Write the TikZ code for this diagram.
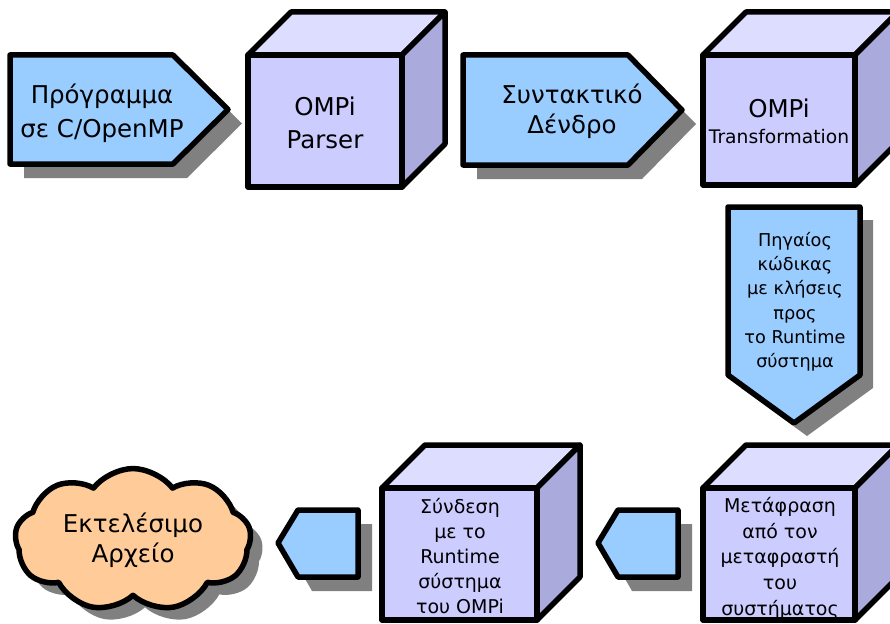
\documentclass[tikz,border=0pt]{standalone}
\usepackage{fontspec}
\setmainfont{DejaVu Sans}
\usetikzlibrary{shapes.symbols,shadows}
\definecolor{arrowblue}{HTML}{99CCFF}
\definecolor{cubefront}{HTML}{CCCCFF}
\definecolor{cubetop}{HTML}{DDDDFF}
\definecolor{cubeside}{HTML}{AAAADD}
\definecolor{shadowgray}{HTML}{808080}
\definecolor{cloudfill}{HTML}{FFCC99}
\newcommand\drawcube[4]{%
  \path[outline,fill=cubetop] (#1,#2) -- ({#1+43},{#2-43}) -- ({#3+43},{#2-43}) -- (#3,#2) -- cycle;
  \path[outline,fill=cubeside] (#3,#2) -- ({#3+43},{#2-43}) -- ({#3+43},{#4-43}) -- (#3,#4) -- cycle;
  \path[outline,fill=cubefront] (#1,#2) rectangle (#3,#4);
}
\begin{document}
\begin{tikzpicture}[x=1pt,y=-1pt,
  outline/.style={draw=black,line width=5.5pt,line join=round},
  shade/.style={fill=shadowgray},
  bigtext/.style={font=\fontsize{24.5}{34}\selectfont,align=center,inner sep=0pt},
  smalltext/.style={font=\fontsize{19}{25.7}\selectfont,align=center,inner sep=0pt}]
\useasboundingbox (0,0) rectangle (890,623);
\clip (0,0) rectangle (890,623);
% arrow 1
\path[shade] (24,69) -- (187,69) -- (242,123.5) -- (187,178) -- (24,178) -- cycle;
\path[outline,fill=arrowblue] (10,55) -- (173,55) -- (228,109.5) -- (173,164) -- (10,164) -- cycle;
\node[bigtext] (prog) at (102,113.5) {Πρόγραμμα\\σε C/OpenMP};
% cube 1
\drawcube{248}{55}{402}{187}
\node[bigtext,font=\fontsize{24.5}{33}\selectfont] (parser) at (325,122.4) {OMPi\\Parser};
% arrow 2
\path[shade] (477,69) -- (642,69) -- (696,124) -- (642,179) -- (477,179) -- cycle;
\path[outline,fill=arrowblue] (463,55) -- (628,55) -- (682,110) -- (628,165) -- (463,165) -- cycle;
\node[bigtext,font=\fontsize{24.5}{30}\selectfont] (tree) at (572,111) {Συντακτικό\\Δένδρο};
% cube 2
\drawcube{703}{55}{855}{185}
\node[bigtext,font=\fontsize{24.5}{26}\selectfont] (transf) at (779,121) {OMPi\\{\fontsize{18.7}{26}\selectfont Transformation}};
% down arrow
\path[shade] (741,220) -- (873,220) -- (873,388) -- (807,436) -- (741,388) -- cycle;
\path[outline,fill=arrowblue] (728,207) -- (860,207) -- (860,375) -- (794,423) -- (728,375) -- cycle;
\node[smalltext,font=\fontsize{17.7}{24.2}\selectfont] (src) at (795,301.7) {Πηγαίος\\κώδικας\\με κλήσεις\\προς\\το Runtime\\σύστημα};
% cube 3
\drawcube{703}{488}{855}{620}
\node[smalltext] (compile) at (780,558.3) {Μετάφραση\\από τον\\μεταφραστή\\του\\συστήματος};
% small arrow A
\path[shade] (612,556) -- (632,524) -- (692,524) -- (692,591) -- (632,591) -- cycle;
\path[outline,fill=arrowblue] (598,543) -- (618,510) -- (678,510) -- (678,577) -- (618,577) -- cycle;
% cube 4
\drawcube{382}{488}{537}{620}
\node[smalltext,font=\fontsize{19}{25}\selectfont] (link) at (460,555.8) {Σύνδεση\\με το\\Runtime\\σύστημα\\του OMPi};
% small arrow B
\path[shade] (292,556) -- (312,524) -- (372,524) -- (372,591) -- (312,591) -- cycle;
\path[outline,fill=arrowblue] (278,543) -- (298,510) -- (358,510) -- (358,577) -- (298,577) -- cycle;
% cloud
\node[cloud,cloud puffs=9,cloud puff arc=105,aspect=1.7,minimum width=236pt,minimum height=137pt,
  outline,fill=cloudfill,
  drop shadow={shadow xshift=12pt,shadow yshift=-12pt,fill=shadowgray,opacity=1},
  font=\fontsize{24.5}{30}\selectfont,align=center,inner sep=0pt] (exe) at (133,540) {Εκτελέσιμο\\Αρχείο};
\end{tikzpicture}
\end{document}
